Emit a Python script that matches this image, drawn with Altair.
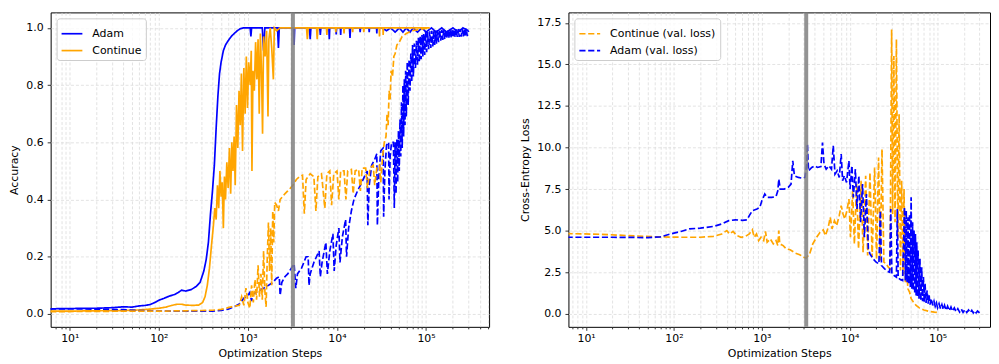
import altair as alt
import pandas as pd

# ---------------- Left panel: accuracy ----------------
ADAM_TRAIN = [
    (6, 0.018), (10, 0.019), (20, 0.02), (30, 0.022), (40, 0.025), (50, 0.024), (60, 0.028),
    (70, 0.03), (80, 0.033), (90, 0.04), (100, 0.048), (115, 0.055), (130, 0.062), (150, 0.068),
    (165, 0.075), (180, 0.083), (200, 0.08), (230, 0.085), (260, 0.095), (290, 0.11), (320, 0.15),
    (340, 0.19), (360, 0.25), (380, 0.35), (400, 0.43), (420, 0.52), (440, 0.65), (460, 0.76),
    (480, 0.84), (500, 0.88), (530, 0.92), (560, 0.94), (600, 0.955), (650, 0.97), (700, 0.98),
    (760, 0.99), (820, 0.997), (900, 1.0), (1060, 1.0), (1080, 0.97), (1100, 1.0), (1450, 1.0),
    (1500, 0.92), (1550, 1.0), (2150, 1.0), (2200, 0.93), (2250, 1.0), (3250, 1.0), (3300, 0.94),
    (3350, 1.0), (4900, 1.0), (5000, 0.96), (5100, 1.0), (6400, 1.0), (6500, 0.975), (6600, 1.0),
    (8100, 1.0), (8200, 0.96), (8300, 1.0), (9700, 1.0), (9800, 0.977), (9900, 1.0), (10900, 1.0),
    (11000, 0.975), (11100, 1.0), (13800, 1.0), (14000, 0.965), (14200, 1.0), (18000, 1.0),
    (18200, 0.985), (18400, 1.0), (22800, 1.0), (23000, 0.985), (23200, 1.0), (27800, 1.0),
    (28000, 0.98), (28200, 1.0), (32000, 1.0), (36000, 0.99), (40000, 1.0), (45000, 0.985),
    (50000, 1.0), (55000, 0.985), (60000, 1.0), (66000, 0.985), (72000, 1.0), (80000, 0.985),
    (90000, 1.0), (100000, 0.985), (115000, 1.0), (130000, 0.985), (150000, 1.0), (170000, 0.985),
    (200000, 1.0), (230000, 0.985), (260000, 1.0), (300000, 0.99),
]

CONTINUE_TRAIN = [
    (6, 0.01), (10, 0.01), (20, 0.011), (40, 0.012), (60, 0.014), (80, 0.017), (100, 0.02),
    (120, 0.024), (140, 0.03), (160, 0.034), (180, 0.034), (200, 0.031), (240, 0.03), (280, 0.031),
    (310, 0.04), (330, 0.06), (350, 0.1), (370, 0.16), (390, 0.24), (410, 0.31), (425, 0.37),
    (440, 0.33), (455, 0.45), (470, 0.37), (485, 0.5), (500, 0.41), (515, 0.46), (530, 0.3),
    (545, 0.48), (560, 0.4), (580, 0.53), (600, 0.44), (620, 0.58), (640, 0.42), (660, 0.6),
    (680, 0.5), (700, 0.62), (720, 0.45), (745, 0.73), (770, 0.58), (795, 0.78), (820, 0.66),
    (845, 0.84), (870, 0.57), (900, 0.86), (930, 0.7), (960, 0.9), (990, 0.72), (1020, 0.88),
    (1060, 0.8), (1090, 0.92), (1110, 0.5), (1140, 0.85), (1180, 0.78), (1220, 0.95), (1260, 0.82),
    (1300, 0.96), (1340, 0.7), (1380, 0.98), (1420, 0.85), (1460, 0.63), (1500, 0.97), (1560, 0.9),
    (1620, 0.99), (1680, 0.69), (1720, 0.96), (1780, 1.0), (1850, 0.93), (1930, 0.82), (1980, 1.0),
    (2100, 0.99), (2300, 1.0), (4550, 1.0), (4650, 0.96), (4750, 1.0), (5900, 1.0), (6000, 0.96),
    (6100, 1.0), (7600, 1.0), (7700, 0.975), (7800, 1.0), (9600, 1.0), (9700, 0.985), (9800, 1.0),
    (11900, 1.0), (12000, 0.98), (12100, 1.0), (14900, 1.0), (15000, 0.985), (15100, 1.0),
    (19800, 1.0), (20000, 0.985), (20200, 1.0), (29800, 1.0), (30000, 0.97), (30200, 1.0),
    (32800, 1.0), (33000, 0.975), (33200, 1.0), (50000, 1.0), (80000, 1.0), (110000, 1.0),
]

ADAM_VAL_ACC = [
    (6, 0.018), (20, 0.017), (40, 0.015), (60, 0.012), (100, 0.01), (200, 0.01), (400, 0.01),
    (500, 0.012), (600, 0.017), (700, 0.025), (800, 0.035), (900, 0.055), (1000, 0.065),
    (1050, 0.075), (1100, 0.045), (1150, 0.07), (1300, 0.08), (1500, 0.09), (1700, 0.1),
    (1900, 0.11), (2100, 0.125), (2250, 0.13), (2300, 0.065), (2400, 0.11), (2600, 0.13),
    (2800, 0.14), (3000, 0.155), (3300, 0.175), (3450, 0.09), (3600, 0.14), (4000, 0.16),
    (4500, 0.2), (4750, 0.2), (4850, 0.1), (5000, 0.14), (5500, 0.18), (6300, 0.22), (6500, 0.13),
    (6800, 0.18), (7500, 0.25), (7800, 0.14), (8300, 0.22), (9000, 0.28), (9300, 0.15),
    (9800, 0.24), (10500, 0.3), (10800, 0.18), (11500, 0.27), (12500, 0.33), (12800, 0.2),
    (13500, 0.3), (14500, 0.36), (15500, 0.4), (17000, 0.43), (19000, 0.46), (21000, 0.49),
    (21800, 0.5), (22200, 0.31), (23000, 0.45), (24500, 0.52), (26500, 0.54), (28000, 0.56),
    (28400, 0.31), (29500, 0.48), (31000, 0.57), (33000, 0.58), (33400, 0.34), (34500, 0.5),
    (36000, 0.59), (38000, 0.6), (38400, 0.4), (39500, 0.55), (41000, 0.6), (43000, 0.6),
    (44000, 0.37), (45000, 0.6), (46000, 0.42), (47000, 0.61), (48000, 0.46), (49000, 0.64),
    (50000, 0.5), (51000, 0.68), (52000, 0.55), (53000, 0.74), (54000, 0.58), (55000, 0.8),
    (56000, 0.62), (57000, 0.82), (58000, 0.66), (59000, 0.85), (60000, 0.69), (61500, 0.88),
    (63000, 0.73), (64500, 0.89), (66000, 0.78), (67500, 0.91), (69000, 0.81), (70500, 0.94),
    (72000, 0.83), (74000, 0.945), (76000, 0.86), (78000, 0.955), (80000, 0.87), (82000, 0.965),
    (84000, 0.88), (86000, 0.97), (88000, 0.89), (90000, 0.975), (92000, 0.9), (94000, 0.978),
    (96500, 0.905), (99000, 0.985), (101500, 0.915), (104000, 0.985), (107000, 0.925),
    (110000, 0.988), (113000, 0.93), (116000, 0.99), (119000, 0.935), (122000, 0.99),
    (125000, 0.94), (128000, 0.99), (131000, 0.945), (134000, 0.992), (138000, 0.95),
    (142000, 0.992), (146000, 0.955), (150000, 0.993), (154000, 0.958), (158000, 0.993),
    (162000, 0.96), (166000, 0.994), (170000, 0.962), (175000, 0.994), (180000, 0.963),
    (185000, 0.995), (190000, 0.965), (195000, 0.995), (200000, 0.966), (206000, 0.995),
    (212000, 0.967), (218000, 0.996), (224000, 0.968), (230000, 0.996), (236000, 0.968),
    (242000, 0.996), (248000, 0.969), (255000, 0.997), (262000, 0.97), (269000, 0.997),
    (276000, 0.97), (283000, 0.997), (290000, 0.971), (300000, 0.99),
]

CONTINUE_VAL_ACC = [
    (6, 0.008), (20, 0.009), (50, 0.01), (100, 0.01), (200, 0.011), (300, 0.012), (400, 0.013),
    (500, 0.016), (600, 0.022), (700, 0.027), (800, 0.03), (850, 0.06), (900, 0.03), (950, 0.09),
    (1000, 0.04), (1050, 0.02), (1100, 0.1), (1150, 0.04), (1200, 0.12), (1250, 0.05),
    (1300, 0.17), (1350, 0.06), (1400, 0.14), (1450, 0.05), (1500, 0.22), (1550, 0.08),
    (1600, 0.025), (1650, 0.2), (1700, 0.32), (1750, 0.15), (1800, 0.3), (1850, 0.1),
    (1900, 0.36), (1950, 0.25), (2000, 0.39), (2100, 0.38), (2200, 0.36), (2300, 0.4),
    (2450, 0.41), (2600, 0.42), (2800, 0.43), (3000, 0.44), (3200, 0.45), (3500, 0.47),
    (3800, 0.48), (4100, 0.485), (4300, 0.35), (4500, 0.47), (5000, 0.49), (5500, 0.48),
    (5800, 0.36), (6100, 0.48), (6700, 0.49), (7300, 0.37), (7700, 0.49), (8300, 0.5),
    (8700, 0.38), (9200, 0.49), (10000, 0.5), (10500, 0.4), (11000, 0.5), (12000, 0.5),
    (12600, 0.4), (13200, 0.5), (14500, 0.505), (15200, 0.42), (16000, 0.5), (17500, 0.505),
    (18300, 0.43), (19200, 0.51), (21000, 0.51), (22000, 0.44), (23500, 0.51), (25500, 0.52),
    (26500, 0.45), (28000, 0.51), (30000, 0.52), (31000, 0.46), (32500, 0.55), (34000, 0.6),
    (35500, 0.62), (36500, 0.7), (37500, 0.66), (38500, 0.78), (39500, 0.75), (40500, 0.85),
    (42000, 0.83), (43500, 0.9), (45000, 0.91), (47000, 0.94), (50000, 0.95), (54000, 0.97),
    (60000, 0.98), (70000, 0.99), (85000, 0.995), (110000, 1.0),
]

# ---------------- Right panel: validation loss ----------------
CONTINUE_VAL_LOSS = [
    (6, 4.82), (15, 4.78), (30, 4.7), (60, 4.63), (120, 4.6), (200, 4.6), (280, 4.65), (350, 4.8),
    (400, 5.0), (430, 4.8), (470, 4.95), (520, 4.7), (580, 4.6), (650, 4.65), (720, 4.8),
    (780, 5.05), (820, 4.6), (870, 4.8), (920, 4.4), (980, 4.6), (1050, 4.4), (1100, 4.95),
    (1150, 4.3), (1250, 4.5), (1350, 4.2), (1450, 4.4), (1520, 4.1), (1560, 5.0), (1600, 4.2),
    (1750, 4.1), (1900, 3.9), (2100, 3.85), (2400, 3.65), (2700, 3.55), (3000, 3.4), (3200, 3.35),
    (3500, 3.6), (3800, 4.2), (4200, 4.6), (4600, 4.9), (5000, 5.05), (5300, 4.7), (5700, 5.2),
    (6000, 5.8), (6300, 5.1), (6700, 5.6), (7100, 5.3), (7600, 5.9), (8000, 6.5), (8400, 6.0),
    (8800, 5.7), (9300, 6.2), (9800, 6.9), (10200, 4.6), (10800, 7.4), (11300, 4.2), (12000, 7.8),
    (12600, 3.9), (13500, 8.0), (14200, 3.7), (15200, 8.3), (16000, 3.5), (17000, 8.5),
    (18000, 3.4), (19200, 8.8), (20200, 3.3), (21300, 9.4), (22300, 3.2), (23300, 9.9),
    (24500, 3.1), (26000, 3.0), (27500, 2.8), (28800, 2.7), (30000, 17.1), (30800, 6.0),
    (31800, 15.5), (32800, 5.5), (34000, 16.5), (35300, 4.5), (36500, 12.0), (37800, 2.6),
    (39000, 8.0), (40500, 2.3), (41500, 7.5), (43000, 1.9), (44500, 2.6), (46000, 1.5),
    (48000, 1.3), (50000, 0.9), (53000, 0.7), (57000, 0.5), (62000, 0.35), (70000, 0.22),
    (80000, 0.14), (92000, 0.1), (105000, 0.07),
]

ADAM_VAL_LOSS = [
    (6, 4.6), (20, 4.6), (50, 4.58), (70, 4.62), (85, 4.75), (100, 4.85), (120, 4.95), (150, 5.1),
    (200, 5.15), (280, 5.25), (350, 5.4), (420, 5.6), (500, 5.65), (600, 5.62), (680, 5.65),
    (720, 5.9), (780, 6.2), (880, 6.3), (950, 6.4), (1000, 6.8), (1080, 7.2), (1150, 7.0),
    (1300, 7.0), (1450, 7.05), (1520, 7.4), (1560, 8.1), (1620, 7.5), (1800, 7.5), (2000, 7.6),
    (2150, 7.8), (2250, 9.2), (2350, 8.3), (2600, 8.2), (2900, 8.15), (3100, 8.2), (3250, 9.0),
    (3300, 10.2), (3400, 8.6), (3700, 8.8), (4000, 8.9), (4300, 8.8), (4700, 8.85), (4900, 10.3),
    (5100, 9.0), (5400, 8.7), (5800, 8.9), (6200, 8.7), (6500, 10.1), (6800, 8.4), (7200, 8.6),
    (7600, 8.2), (8000, 9.6), (8300, 8.0), (8700, 8.3), (9200, 7.9), (9800, 9.2), (10100, 7.5),
    (10600, 8.9), (11000, 7.0), (11600, 8.7), (12100, 6.3), (12700, 8.3), (13300, 5.5),
    (14000, 7.8), (14700, 4.6), (15500, 7.2), (16300, 3.9), (17000, 3.6), (18500, 3.3),
    (20000, 3.1), (21500, 3.0), (22300, 6.2), (23000, 2.9), (25000, 2.7), (27000, 2.55),
    (28500, 2.5), (29300, 6.3), (30200, 2.4), (32000, 2.3), (34000, 2.2), (34800, 6.3),
    (35600, 2.15), (38000, 2.05), (40000, 2.0), (42000, 6.4), (43000, 2.0), (44000, 6.2),
    (45000, 1.9), (46000, 5.8), (47000, 1.8), (48000, 6.0), (49000, 1.6), (50000, 7.0),
    (51000, 1.5), (52000, 5.5), (53000, 1.4), (54000, 5.0), (55000, 1.2), (56000, 4.8),
    (57000, 1.1), (58000, 4.3), (59000, 1.0), (60000, 3.8), (61500, 0.9), (63000, 3.3),
    (64500, 0.8), (66000, 2.8), (67500, 0.75), (69000, 2.2), (70500, 0.7), (72000, 1.8),
    (74000, 0.65), (76000, 1.4), (78000, 0.6), (80000, 1.1), (82000, 0.55), (85000, 0.9),
    (88000, 0.5), (91000, 0.75), (94000, 0.45), (97000, 0.65), (100000, 0.35), (104000, 0.6),
    (108000, 0.3), (112000, 0.55), (116000, 0.25), (120000, 0.5), (125000, 0.2), (130000, 0.45),
    (136000, 0.18), (142000, 0.4), (148000, 0.15), (155000, 0.35), (162000, 0.12), (170000, 0.3),
    (178000, 0.1), (186000, 0.28), (195000, 0.08), (205000, 0.25), (215000, 0.07), (225000, 0.22),
    (235000, 0.06), (245000, 0.2), (255000, 0.05), (265000, 0.18), (275000, 0.05), (285000, 0.16),
    (300000, 0.05),
]

SWITCH_STEP = [3200]

LEFT_Y_TICKS = [0.0, 0.2, 0.4, 0.6, 0.8, 1.0]
RIGHT_Y_TICKS = [0.0, 2.5, 5.0, 7.5, 10.0, 12.5, 15.0, 17.5]
LEFT_X_DOMAIN = [6.1, 510000]
RIGHT_X_DOMAIN = [6.3, 395000]
LEFT_Y_DOMAIN = [-0.045, 1.054]
RIGHT_Y_DOMAIN = [-0.79, 18.13]

BLUE = "#0000ff"
ORANGE = "#ffa500"
FONT = "DejaVu Sans"
LW = 1.7
DASH = [6.2, 2.7]


def frame(pairs, run, kind):
    return pd.DataFrame({"step": [p[0] for p in pairs], "value": [p[1] for p in pairs],
                         "run": run, "kind": kind})


def log_ticks(domain):
    vals = [m * 10 ** k for k in range(0, 7) for m in range(1, 10)]
    return [v for v in vals if domain[0] <= v <= domain[1]]


LABEL_EXPR = ("datum.value == 10 ? '10\u00b9' : datum.value == 100 ? '10\u00b2' : "
              "datum.value == 1000 ? '10\u00b3' : datum.value == 10000 ? '10\u2074' : "
              "datum.value == 100000 ? '10\u2075' : ''")
MAJOR_TEST = ("datum.value == 10 || datum.value == 100 || datum.value == 1000 || "
              "datum.value == 10000 || datum.value == 100000")


def x_axis(domain):
    return alt.Axis(values=log_ticks(domain), labelExpr=LABEL_EXPR, title="Optimization Steps",
                    grid=True, labelOverlap=False, labelFlush=False, labelPadding=2,
                    titlePadding=4,
                    tickSize={"condition": {"test": MAJOR_TEST, "value": 3.5}, "value": 2})


def legend(dash=None):
    kw = dict(title=None, orient="top-left", offset=6, padding=4, strokeColor="#cccccc",
              fillColor="rgba(255,255,255,0.8)", cornerRadius=3, labelFontSize=11,
              labelFont=FONT, labelColor="black", symbolType="stroke", symbolSize=440,
              symbolStrokeWidth=LW, labelOffset=9, rowPadding=0)
    if dash:
        kw["symbolDash"] = dash
    return alt.Legend(**kw)


# Left panel
left_xs = alt.Scale(type="log", domain=LEFT_X_DOMAIN, nice=False)
left_ys = alt.Scale(domain=LEFT_Y_DOMAIN, nice=False, zero=False)
left_color = alt.Scale(domain=["Adam", "Continue"], range=[BLUE, ORANGE])
dash_scale = alt.Scale(domain=["train", "val"], range=[[1, 0], DASH])
left_xaxis = x_axis(LEFT_X_DOMAIN)
left_yaxis = alt.Axis(values=LEFT_Y_TICKS, format=".1f", title="Accuracy", grid=True,
                      tickSize=3.5, labelPadding=4, titlePadding=6)
left_legend = legend()

left_layers = []
for pairs, run, kind in [(ADAM_TRAIN, "Adam", "train"), (CONTINUE_TRAIN, "Continue", "train"),
                         (ADAM_VAL_ACC, "Adam", "val"), (CONTINUE_VAL_ACC, "Continue", "val")]:
    left_layers.append(
        alt.Chart(frame(pairs, run, kind)).mark_line(strokeWidth=LW, clip=True).encode(
            x=alt.X("step:Q", scale=left_xs, axis=left_xaxis),
            y=alt.Y("value:Q", scale=left_ys, axis=left_yaxis),
            color=alt.Color("run:N", scale=left_color, legend=left_legend),
            strokeDash=alt.StrokeDash("kind:N", scale=dash_scale, legend=None),
        )
    )
left_rule = alt.Chart(pd.DataFrame({"step": SWITCH_STEP})).mark_rule(
    color="#808080", strokeWidth=4, opacity=0.85).encode(
    x=alt.X("step:Q", scale=left_xs, axis=left_xaxis))
left = alt.layer(*left_layers, left_rule).properties(width=442, height=317)

# Right panel
right_xs = alt.Scale(type="log", domain=RIGHT_X_DOMAIN, nice=False)
right_ys = alt.Scale(domain=RIGHT_Y_DOMAIN, nice=False, zero=False)
right_color = alt.Scale(domain=["Continue (val. loss)", "Adam (val. loss)"], range=[ORANGE, BLUE])
right_xaxis = x_axis(RIGHT_X_DOMAIN)
right_yaxis = alt.Axis(values=RIGHT_Y_TICKS, format=".1f", title="Cross-Entropy Loss", grid=True,
                       tickSize=3.5, labelPadding=4, titlePadding=6)
right_legend = legend(dash=DASH)

right_layers = []
for pairs, run in [(CONTINUE_VAL_LOSS, "Continue (val. loss)"), (ADAM_VAL_LOSS, "Adam (val. loss)")]:
    right_layers.append(
        alt.Chart(frame(pairs, run, "val")).mark_line(strokeWidth=LW, clip=True,
                                                       strokeDash=DASH).encode(
            x=alt.X("step:Q", scale=right_xs, axis=right_xaxis),
            y=alt.Y("value:Q", scale=right_ys, axis=right_yaxis),
            color=alt.Color("run:N", scale=right_color, legend=right_legend),
        )
    )
right_rule = alt.Chart(pd.DataFrame({"step": SWITCH_STEP})).mark_rule(
    color="#808080", strokeWidth=4, opacity=0.85).encode(
    x=alt.X("step:Q", scale=right_xs, axis=right_xaxis))
right = alt.layer(*right_layers, right_rule).properties(width=425, height=317)

chart = alt.hconcat(left, right, spacing=29).resolve_scale(color="independent").properties(
    padding=0
).configure_axis(
    labelFont=FONT, labelFontSize=11, titleFont=FONT, titleFontSize=11, titleFontWeight="normal",
    labelColor="black", titleColor="black", tickColor="black", tickWidth=0.8, domain=False,
    gridColor="#dcdcdc", gridDash=[3, 2], gridWidth=0.8,
).configure_view(stroke="black", strokeWidth=1)

chart.save("out.html", embed_options={"renderer": "svg", "actions": False})
